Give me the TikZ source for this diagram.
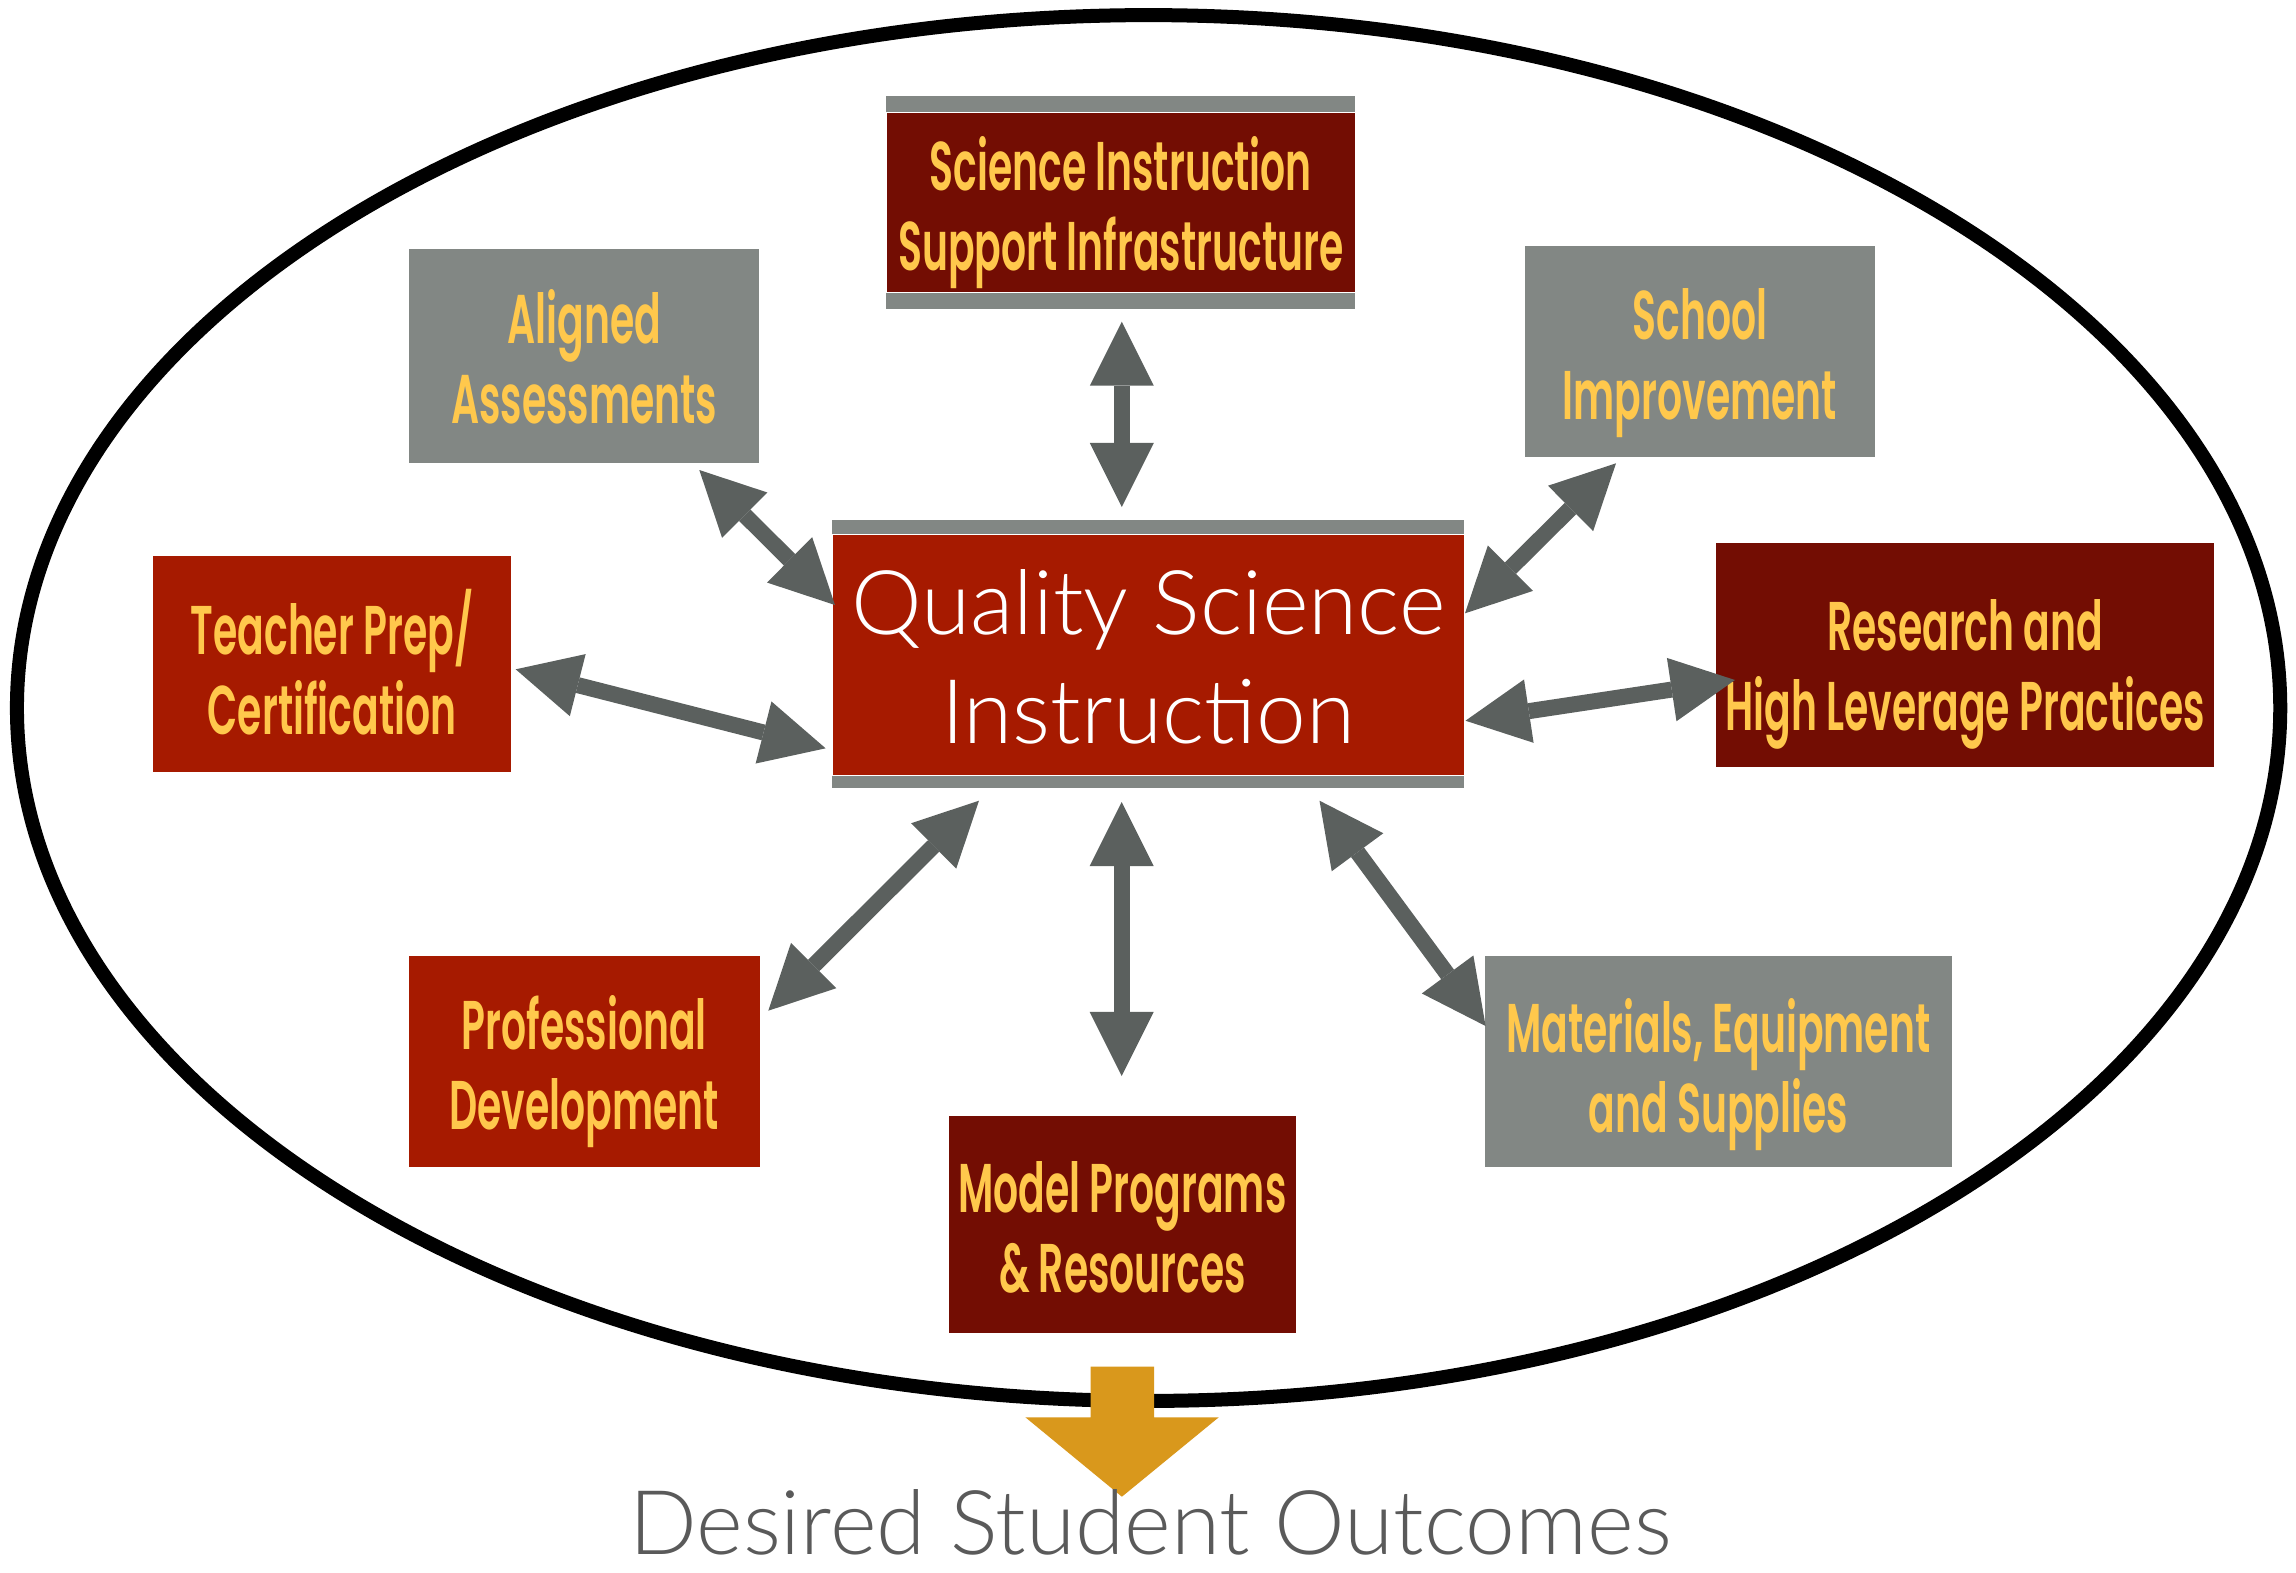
\documentclass[tikz,border=0pt]{standalone}
\usepackage{fontspec}
\usetikzlibrary{arrows.meta}
% narrow label face: semibold if present, else bold
\IfFontExistsTF{Poppins SemiBold}
  {\newfontfamily\condfont[FakeStretch=0.57]{Poppins SemiBold}\let\condweight\relax}
  {\newfontfamily\condfont[FakeStretch=0.565]{Poppins}\let\condweight\bfseries}
\newfontfamily\lightfont{Lato Light}

\definecolor{deepred}{RGB}{115,13,3}
\definecolor{brightred}{RGB}{166,26,0}
\definecolor{slate}{RGB}{130,135,132}
\definecolor{linkgrey}{RGB}{91,96,94}
\definecolor{gold}{RGB}{255,200,76}
\definecolor{amber}{RGB}{217,152,28}
\definecolor{caption}{RGB}{90,90,90}

% two centred lines; the first carries a strut so the block centres visually
\newcommand\pair[3][0.56cm]{\vrule height #1 depth 0pt width 0pt\smash{#2}\\\smash{#3}}

\tikzset{
  box/.style={inner sep=0pt, text=gold, align=center,
    font=\condfont\condweight\fontsize{19.6}{22.76}\selectfont},
  hub/.style={inner sep=0pt, text=white, align=center, fill=brightred,
    font=\lightfont\fontsize{25.4}{31.01}\selectfont},
  link/.style={draw=linkgrey, line width=0.16cm,
    {Triangle[length=0.64cm,width=0.64cm,line width=0pt]}-{Triangle[length=0.64cm,width=0.64cm,line width=0pt]}},
}

\begin{document}
\begin{tikzpicture}[x=0.01cm, y=-0.01cm]
\useasboundingbox (0,0) rectangle (2296,1572);
\fill[white] (0,0) rectangle (2296,1572);

% enclosing ellipse
\draw[line width=0.14cm] (1148.6,708) ellipse [x radius=11.31cm, y radius=6.925cm];

% central box with grey bands
\node[hub, minimum width=6.305cm, minimum height=2.40cm] (qsi) at (1148.25,655)
  {\pair[0.68cm]{Quality Science}{Instruction}};
\fill[slate] (qsi.north west) rectangle ([yshift=0.14cm]qsi.north east);
\fill[slate] (qsi.south west) rectangle ([yshift=-0.12cm]qsi.south east);

% surrounding boxes
\node[box, fill=deepred, minimum width=4.676cm, minimum height=1.79cm] (sci) at (1120.8,202.5)
  {\pair{Science Instruction}{Support Infrastructure}};
\fill[slate] (sci.north west) rectangle ([yshift=0.16cm]sci.north east);
\fill[slate] (sci.south west) rectangle ([yshift=-0.16cm]sci.south east);

\node[box, fill=slate, minimum width=3.50cm, minimum height=2.137cm] (aa) at (584.3,355.85)
  {\pair{Aligned}{Assessments}};
\node[box, fill=slate, minimum width=3.503cm, minimum height=2.11cm] (si) at (1699.85,351.2)
  {\pair{School}{Improvement}};
\node[box, fill=brightred, minimum width=3.58cm, minimum height=2.16cm] (tp) at (332,663.7)
  {\pair[0.62cm]{Teacher Prep/}{Certification}};
\node[box, fill=deepred, minimum width=4.975cm, minimum height=2.24cm] (rh) at (1965.25,654.7)
  {\pair[0.72cm]{Research and}{High Leverage Practices}};
\node[box, fill=brightred, minimum width=3.507cm, minimum height=2.107cm] (pd) at (584.25,1061.35)
  {\pair{Professional}{Development}};
\node[box, fill=slate, minimum width=4.671cm, minimum height=2.107cm] (me) at (1718.25,1061.35)
  {\pair[0.62cm]{Materials, Equipment}{and Supplies}};
\node[box, fill=deepred, minimum width=3.47cm, minimum height=2.165cm] (mp) at (1122.5,1224.25)
  {\pair{Model Programs}{\& Resources}};

% arrow end points
\coordinate (sciA) at (1121.8,321.7);  \coordinate (sciB) at (1121.8,507);
\coordinate (aaA)  at (699.3,470);     \coordinate (aaB)  at (835,605);
\coordinate (tpA)  at (515.7,669.3);   \coordinate (tpB)  at (825.6,748.3);
\coordinate (siA)  at (1616,463.3);    \coordinate (siB)  at (1465,613.3);
\coordinate (rhA)  at (1735,680);      \coordinate (rhB)  at (1465.5,720.7);
\coordinate (pdA)  at (768.3,1010.7);  \coordinate (pdB)  at (979,800.7);
\coordinate (mpA)  at (1121.7,1076);   \coordinate (mpB)  at (1121.7,802);
\coordinate (meA)  at (1485.6,1026);   \coordinate (meB)  at (1319.5,800.7);

\draw[link] (sciA) -- (sciB);
\draw[link] (aaA) -- (aaB);
\draw[link] (tpA) -- (tpB);
\draw[link] (siA) -- (siB);
\draw[link] (rhA) -- (rhB);
\draw[link] (pdA) -- (pdB);
\draw[link] (mpA) -- (mpB);
\draw[link] (meA) -- (meB);

% outcome arrow and caption
\fill[amber] (1090.6,1366.7) -- (1154,1366.7) -- (1154,1417.3) -- (1218.75,1417.3)
  -- (1121.9,1496.7) -- (1025.4,1417.3) -- (1090.6,1417.3) -- cycle;
\node[anchor=base, inner sep=0pt, text=caption, font=\lightfont\fontsize{25.4}{31}\selectfont]
  (out) at (1150.3,1554) {Desired Student Outcomes};
\end{tikzpicture}
\end{document}
